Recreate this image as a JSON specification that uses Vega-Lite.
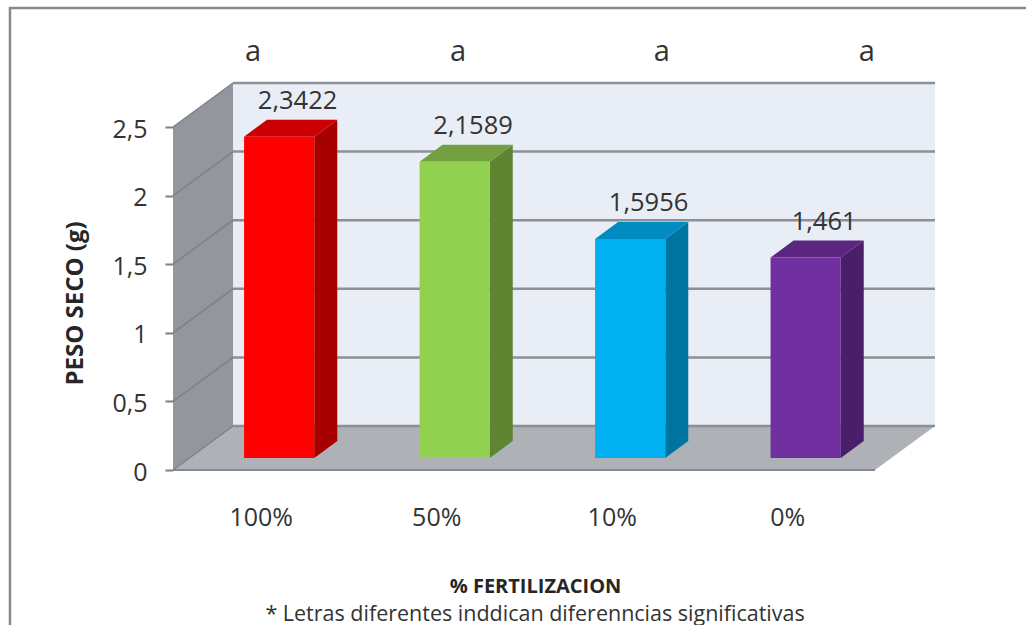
{
"$schema":"https://vega.github.io/schema/vega-lite/v6.json",
"width":762,"height":387,"autosize":{"type":"none"},
"padding":{"left":173,"top":83,"right":91,"bottom":155},
"background":"white",
"config":{"view":{"stroke":null},"font":"Open Sans"},
"datasets":{
"bars":[{"cat":"100%","value":2.3422},{"cat":"50%","value":2.1589},{"cat":"10%","value":1.5956},{"cat":"0%","value":1.461}],
"ticks":[{"tick":0},{"tick":0.5},{"tick":1},{"tick":1.5},{"tick":2},{"tick":2.5}],
"edge":[{"t":0},{"t":1}]
},
"encoding":{
"x":{"field":"x","type":"quantitative","scale":{"domain":[0,4.342],"nice":false,"zero":false},
"axis":{"values":[0.5,1.5,2.5,3.5],"labelExpr":"['100%','50%','10%','0%'][floor(datum.value)]","ticks":false,"domain":false,"grid":false,"labelFontSize":25,"labelColor":"#333333","labelPadding":35,"labelFlush":false,"labelBound":false,"labelOverlap":false,"title":"% FERTILIZACION","titleFontSize":20,"titleFontWeight":"bold","titleColor":"#262626","titleX":362,"titleY":116,"titleBaseline":"middle"}},
"y":{"field":"y","type":"quantitative","scale":{"domain":[0,2.8207],"nice":false,"zero":false},
"axis":{"values":[0,0.5,1,1.5,2,2.5],"labelExpr":"replace(datum.value+'','.',',')","domain":false,"grid":false,"tickSize":8,"tickWidth":2,"tickColor":"#7f7f7f","labelFontSize":25,"labelColor":"#333333","labelPadding":18,"labelOffset":2,"labelOverlap":false,"labelBound":false,"labelFlush":false,"title":"PESO SECO (g)","titleFontSize":24,"titleFontWeight":"bold","titleColor":"#262626","titleX":-98,"titleY":220,"titleBaseline":"middle"}}
},
"layer":[
{"data":{"values":[{"left":-0.929,"right":4.94,"top":3.367,"bottom":-1.239}]},
 "transform":[{"calculate":"datum.left","as":"x"},{"calculate":"datum.top","as":"y"}],
 "mark":{"type":"rect","fill":null,"stroke":"#8a8a8a","strokeWidth":2.5},
 "encoding":{"x2":{"field":"right"},"y2":{"field":"bottom"}}},
{"data":{"values":[{"left":0.342,"right":4.342,"low":0.3207,"high":2.8207}]},
 "transform":[{"calculate":"datum.left","as":"x"},{"calculate":"datum.low","as":"y"}],
 "mark":{"type":"rect","fill":"#e8edf6"},
 "encoding":{"x2":{"field":"right"},"y2":{"field":"high"}}},
{"data":{"name":"edge"},
 "transform":[{"calculate":"datum.t*0.342","as":"x"},{"calculate":"datum.t*0.3207","as":"y"},{"calculate":"2.5+datum.t*0.3207","as":"y2"}],
 "mark":{"type":"area","orient":"vertical","fill":"#93979d"},
 "encoding":{"y2":{"field":"y2"}}},
{"data":{"name":"edge"},
 "transform":[{"calculate":"datum.t*0.342","as":"x"},{"calculate":"4+datum.t*0.342","as":"x2"},{"calculate":"datum.t*0.3207","as":"y"}],
 "mark":{"type":"area","orient":"horizontal","fill":"#aeb1b6"},
 "encoding":{"x2":{"field":"x2"}}},
{"data":{"name":"ticks"},
 "transform":[{"calculate":"0.342","as":"x"},{"calculate":"4.342","as":"x2"},{"calculate":"datum.tick+0.3207","as":"y"}],
 "mark":{"type":"rule","stroke":"#8c9096","strokeWidth":2.5},
 "encoding":{"x2":{"field":"x2"}}},
{"data":{"name":"ticks"},
 "transform":[{"calculate":"0","as":"x"},{"calculate":"0.342","as":"x2"},{"calculate":"datum.tick","as":"y"},{"calculate":"datum.tick+0.3207","as":"y2"}],
 "mark":{"type":"rule","stroke":"#7d8187","strokeWidth":1.5},
 "encoding":{"x2":{"field":"x2"},"y2":{"field":"y2"}}},
{"data":{"values":[{"x":0,"x2":4,"y":0}]},
 "mark":{"type":"rule","stroke":"#85888d","strokeWidth":2},
 "encoding":{"x2":{"field":"x2"}}},
{"data":{"name":"bars"},
 "transform":[{"calculate":"indexof(['100%','50%','10%','0%'],datum.cat)+0.605","as":"c"},{"calculate":"[0,1]","as":"t"},{"flatten":["t"]},{"calculate":"datum.c+0.2+datum.t*0.131","as":"x"},{"calculate":"0.0875+datum.t*0.124","as":"y"},{"calculate":"datum.value+0.0875+datum.t*0.124","as":"y2"}],
 "mark":{"type":"area","orient":"vertical"},
 "encoding":{"y2":{"field":"y2"},"color":{"field":"cat","type":"nominal","legend":null,"scale":{"domain":["100%","50%","10%","0%"],"range":["#a80000","#5f8533","#0074a0","#4a1f6a"]}}}},
{"data":{"name":"bars"},
 "transform":[{"calculate":"indexof(['100%','50%','10%','0%'],datum.cat)+0.605","as":"c"},{"calculate":"[0,1]","as":"t"},{"flatten":["t"]},{"calculate":"datum.c-0.2+datum.t*0.131","as":"x"},{"calculate":"datum.c+0.2+datum.t*0.131","as":"x2"},{"calculate":"datum.value+0.0875+datum.t*0.124","as":"y"}],
 "mark":{"type":"area","orient":"horizontal"},
 "encoding":{"x2":{"field":"x2"},"color":{"field":"cat","type":"nominal","legend":null,"scale":{"domain":["100%","50%","10%","0%"],"range":["#cc0000","#749f40","#008cc0","#5a2680"]}}}},
{"data":{"name":"bars"},
 "transform":[{"calculate":"indexof(['100%','50%','10%','0%'],datum.cat)+0.605","as":"c"},{"calculate":"datum.c-0.2","as":"x"},{"calculate":"datum.c+0.2","as":"x2"},{"calculate":"0.0875","as":"y"},{"calculate":"datum.value+0.0875","as":"y2"}],
 "mark":{"type":"rect"},
 "encoding":{"x2":{"field":"x2"},"y2":{"field":"y2"},"color":{"field":"cat","type":"nominal","legend":null,"scale":{"domain":["100%","50%","10%","0%"],"range":["#ff0000","#92d050","#00b0f0","#7030a0"]}}}},
{"data":{"name":"bars"},
 "transform":[{"calculate":"indexof(['100%','50%','10%','0%'],datum.cat)+0.605+0.105","as":"x"},{"calculate":"datum.value+0.0875+0.26","as":"y"},{"calculate":"replace(datum.value+'','.',',')","as":"label"}],
 "mark":{"type":"text","fontSize":25.5,"color":"#333333","align":"center","baseline":"middle"},
 "encoding":{"text":{"field":"label"}}},
{"data":{"values":[{"x":0.456,"y":3.047,"label":"a"},{"x":1.624,"y":3.047,"label":"a"},{"x":2.786,"y":3.047,"label":"a"},{"x":3.954,"y":3.047,"label":"a"}]},
 "mark":{"type":"text","fontSize":29,"color":"#333333","align":"center","baseline":"middle"},
 "encoding":{"text":{"field":"label"}}},
{"data":{"values":[{"x":2.063,"y":-1.06,"label":"* Letras diferentes inddican diferenncias significativas"}]},
 "mark":{"type":"text","fontSize":21.5,"color":"#333333","align":"center","baseline":"middle"},
 "encoding":{"text":{"field":"label"}}}
],
"resolve":{"scale":{"color":"independent"}}
}
